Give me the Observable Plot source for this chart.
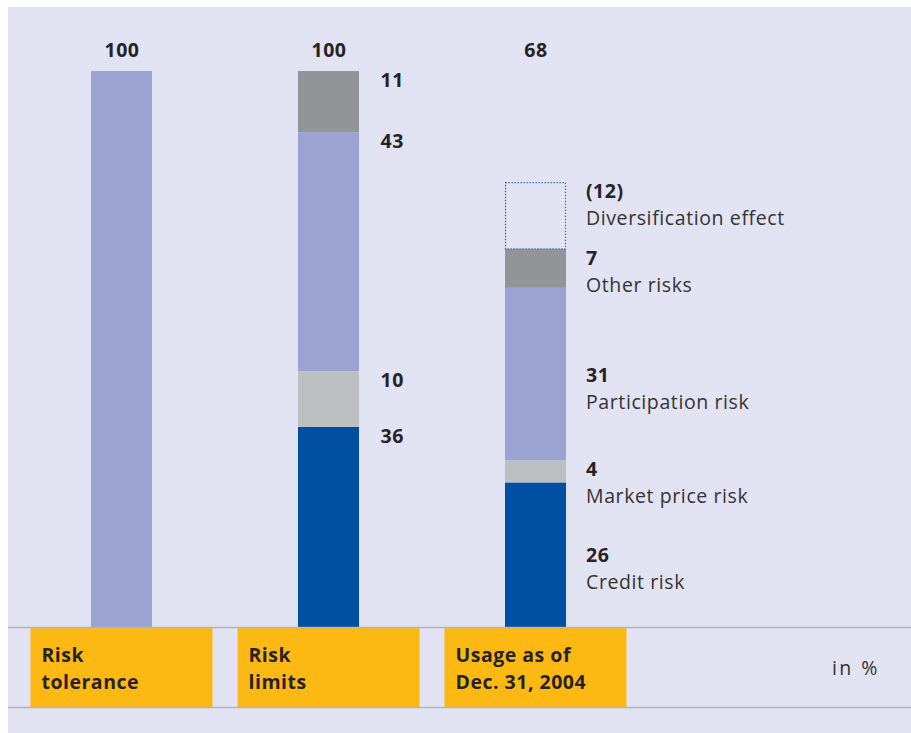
<!DOCTYPE html>
<html>
<head>
<meta charset="utf-8">
<script src="https://cdn.jsdelivr.net/npm/d3@7"></script>
<script src="https://cdn.jsdelivr.net/npm/@observablehq/plot@0.6"></script>
<style>
  html, body { margin: 0; padding: 0; background: #ffffff; }
  #chart { position: absolute; left: 8px; top: 7px; width: 903px; height: 726px; background: #e1e2f2; }
  #chart svg { display: block; overflow: visible; }
  #chart g[aria-description="figures"] { letter-spacing: 0.5px; }
  #chart g[aria-description="risk names"] { letter-spacing: 0.6px; }
  #chart g[aria-description="unit"] { letter-spacing: 2.5px; }
</style>
</head>
<body>
<div id="chart"></div>
<script>
// Bars (categories) and their captions in the orange label strip
const bars = ["Risk tolerance", "Risk limits", "Usage as of Dec. 31, 2004"];
const barCaptions = ["Risk\ntolerance", "Risk\nlimits", "Usage as of\nDec. 31, 2004"];
const totals = [100, 100, 68];

// Risk types, bottom to top
const riskTypes = ["Credit risk", "Market price risk", "Participation risk", "Other risks", "Diversification effect"];
const riskColors = ["#004fa2", "#bebfc3", "#9ba3d2", "#939498", "none"];

// Segment values per bar (in %)
const toleranceValues = [100];
const limitValues = [36, 10, 43, 11];
const usageValues = [26, 4, 31, 7, 12];
const usageLabels = ["26", "4", "31", "7", "(12)"];

// Build stacked segments
function stack(bar, values, types, labels) {
  let base = 0;
  return values.map((v, i) => {
    const row = {bar, type: types[i], value: v, label: labels ? labels[i] : String(v), y1: base, y2: base + v};
    base += v;
    return row;
  });
}
const tolerance = stack(bars[0], toleranceValues, ["Risk tolerance"]);
const limits = stack(bars[1], limitValues, riskTypes);
const usage = stack(bars[2], usageValues, riskTypes, usageLabels);
const filled = [...tolerance, ...limits, ...usage].filter(d => d.type !== "Diversification effect");
const dotted = usage.filter(d => d.type === "Diversification effect");

// Tall usage segments carry their label at mid-height, the rest at the top
const usageTop = usage.filter(d => d.value < 20);
const usageMid = usage.filter(d => d.value >= 20);
const mid = d => (d.y1 + d.y2) / 2;

const font = "'Open Sans', 'Noto Sans', sans-serif";
const ink = "#262324";
const bold = {fontSize: 19.5, fontWeight: 700, fill: ink, ariaDescription: "figures"};
const plain = {fontSize: 19.5, fill: "#333", ariaDescription: "risk names"};

const chart = Plot.plot({
  width: 903,
  height: 726,
  margin: 0,
  style: {background: "transparent", fontFamily: font, overflow: "visible"},
  x: {type: "band", domain: bars, range: [10, 631], padding: 0, axis: null},
  y: {domain: [0, 100], range: [620, 64], axis: null},
  color: {domain: ["Risk tolerance", ...riskTypes], range: ["#9ba3d2", ...riskColors]},
  marks: [
    // stacked bars
    Plot.barY(filled, {x: "bar", y1: "y1", y2: "y2", fill: "type", insetLeft: 73, insetRight: 73}),
    Plot.barY(dotted, {x: "bar", y1: "y1", y2: "y2", fill: "none", stroke: "#2c63b8", strokeWidth: 1.2,
      strokeDasharray: "1.3,1.7", insetLeft: 73.5, insetRight: 73.5, insetTop: 0.5}),

    // label strip below the baseline
    Plot.barY(bars, {x: d => d, y1: 0, y2: 0, fill: "#fdb913", insetLeft: 12.5, insetRight: 12.5, insetTop: 1, insetBottom: -80}),
    Plot.ruleY([0], {stroke: "#b2b3bb", strokeWidth: 1.5}),
    Plot.ruleY([0], {stroke: "#b2b3bb", strokeWidth: 1.5, dy: 80}),
    Plot.text(bars, {x: d => d, y: 0, text: (d, i) => barCaptions[i], dx: -80.5, dy: 39,
      textAnchor: "start", lineAnchor: "middle", lineHeight: 1.4, ...bold}),
    Plot.text(["in %"], {frameAnchor: "right", y: 0, text: d => d, dx: -31.5, dy: 41, textAnchor: "end",
      lineAnchor: "middle", ...plain, ariaDescription: "unit"}),

    // totals above the bars
    Plot.text(bars, {x: d => d, frameAnchor: "top", text: (d, i) => String(totals[i]), dy: 43,
      lineAnchor: "middle", ...bold}),

    // risk-limit values beside the middle bar
    Plot.text(limits, {x: "bar", y: "y2", text: "label", dx: 51.5, dy: 9, textAnchor: "start",
      lineAnchor: "middle", ...bold}),

    // usage values and risk names beside the right bar
    Plot.text(usageTop, {x: "bar", y: "y2", text: "label", dx: 50, dy: 9, textAnchor: "start",
      lineAnchor: "middle", ...bold}),
    Plot.text(usageTop, {x: "bar", y: "y2", text: "type", dx: 50, dy: 36, textAnchor: "start",
      lineAnchor: "middle", ...plain}),
    Plot.text(usageMid, {x: "bar", y: mid, text: "label", dx: 50, dy: 1, textAnchor: "start",
      lineAnchor: "middle", ...bold}),
    Plot.text(usageMid, {x: "bar", y: mid, text: "type", dx: 50, dy: 28, textAnchor: "start",
      lineAnchor: "middle", ...plain})
  ]
});

document.getElementById("chart").appendChild(chart);
</script>
</body>
</html>
